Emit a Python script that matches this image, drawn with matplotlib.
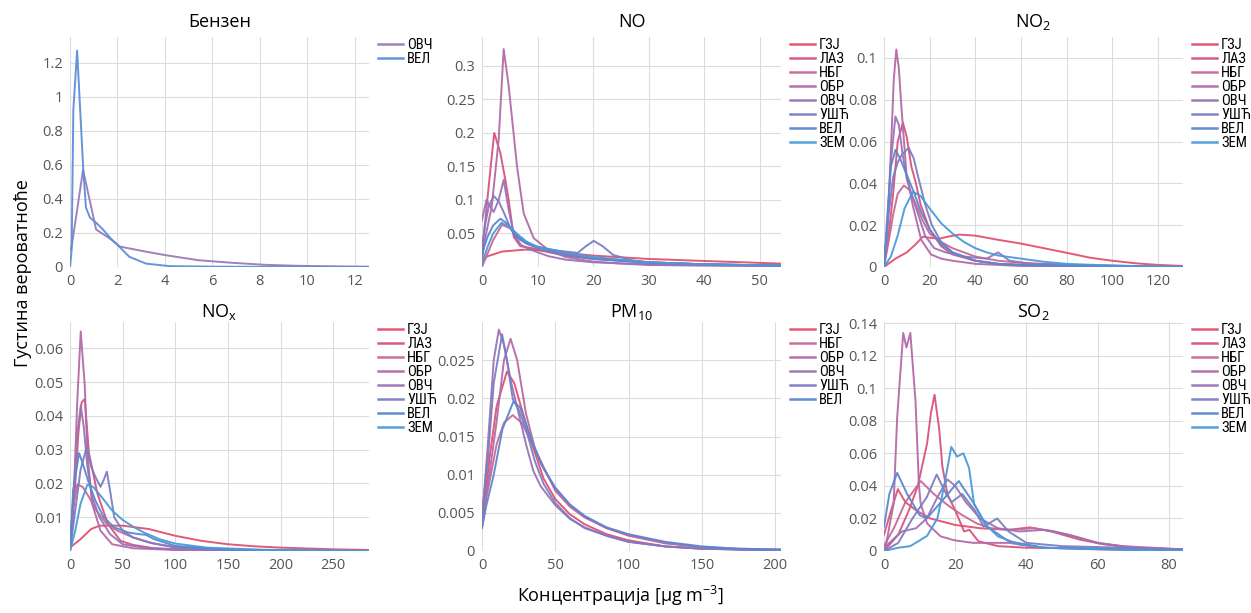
import matplotlib
matplotlib.use("Agg")
import matplotlib.pyplot as plt
from matplotlib import font_manager
from matplotlib.ticker import FuncFormatter

plt.rcParams["font.family"] = ["Open Sans", "DejaVu Sans"]
plt.rcParams["mathtext.fontset"] = "custom"
plt.rcParams["mathtext.rm"] = "Open Sans"
plt.rcParams["mathtext.it"] = "Open Sans"

# station colours (red -> purple -> blue)
COLORS = {
    "ГЗЈ": "#e2506f",
    "ЛАЗ": "#d8537d",
    "НБГ": "#c96896",
    "ОБР": "#b36aa8",
    "ОВЧ": "#9a74b6",
    "УШЋ": "#7d7cc2",
    "ВЕЛ": "#5a87cf",
    "ЗЕМ": "#4a9ad9",
}

# ---- Бензен ----
benz_ovc_x = [0, 0.07, 0.55, 1.1, 1.65, 2.1, 2.65, 3.2, 4.0, 5.4, 6.8, 8.2, 9.6, 11, 12.6]
benz_ovc_y = [0.10, 0.12, 0.57, 0.22, 0.17, 0.12, 0.105, 0.09, 0.07, 0.04, 0.025, 0.013, 0.007, 0.004, 0.002]
benz_vel_x = [0, 0.07, 0.14, 0.3, 0.56, 0.67, 0.84, 1.1, 1.39, 1.7, 2.0, 2.5, 3.2, 4.2, 6, 8, 12.6]
benz_vel_y = [0.0, 0.1, 0.92, 1.27, 0.57, 0.35, 0.29, 0.26, 0.22, 0.17, 0.13, 0.06, 0.02, 0.005, 0.002, 0.001, 0.0]

# ---- NO ----
no_gzj_x = [0, 1, 3.6, 7.8, 10, 15, 20, 30, 40, 54]
no_gzj_y = [0.01, 0.016, 0.023, 0.026, 0.025, 0.021, 0.017, 0.012, 0.009, 0.005]
no_laz_x = [0, 0.3, 1.2, 2.2, 3.3, 4.2, 4.8, 5.7, 6.9, 9, 12, 15, 20, 30, 40, 54]
no_laz_y = [0.01, 0.045, 0.12, 0.2, 0.17, 0.13, 0.1, 0.045, 0.031, 0.028, 0.022, 0.017, 0.012, 0.007, 0.004, 0.002]
no_nbg_x = [0, 1, 2, 3.6, 5, 6.5, 8, 10, 15, 20, 30, 40, 54]
no_nbg_y = [0.0, 0.02, 0.04, 0.063, 0.058, 0.045, 0.036, 0.03, 0.02, 0.013, 0.007, 0.004, 0.002]
no_obr_x = [0, 0.5, 1.75, 3.0, 3.9, 4.8, 6.3, 7.5, 9.3, 12, 15, 20, 25, 30, 40, 54]
no_obr_y = [0.01, 0.04, 0.09, 0.19, 0.325, 0.27, 0.15, 0.08, 0.043, 0.025, 0.015, 0.008, 0.005, 0.003, 0.002, 0.001]
no_ovc_x = [0, 0.8, 1.5, 2.1, 3.0, 3.9, 4.8, 5.7, 7, 9, 12, 15, 20, 30, 40, 54]
no_ovc_y = [0.07, 0.1, 0.09, 0.082, 0.1, 0.13, 0.085, 0.05, 0.033, 0.025, 0.016, 0.011, 0.007, 0.004, 0.003, 0.002]
no_usc_x = [0, 0.5, 1.2, 2.1, 3, 4, 5, 6, 8, 10, 13, 17.2, 18.7, 20.1, 21.7, 23.6, 27, 30, 40, 54]
no_usc_y = [0.03, 0.06, 0.09, 0.106, 0.098, 0.08, 0.06, 0.045, 0.035, 0.03, 0.025, 0.021, 0.031, 0.039, 0.031, 0.018, 0.01, 0.007, 0.004, 0.002]
no_vel_x = [0, 1, 2, 3.3, 4.5, 6, 8, 10, 15, 20, 30, 40, 54]
no_vel_y = [0.02, 0.045, 0.062, 0.072, 0.065, 0.048, 0.035, 0.028, 0.018, 0.012, 0.006, 0.004, 0.002]
no_zem_x = [0, 1, 2, 3.5, 5, 6.5, 8, 10, 15, 20, 30, 40, 54]
no_zem_y = [0.005, 0.03, 0.05, 0.066, 0.06, 0.048, 0.038, 0.03, 0.022, 0.015, 0.007, 0.004, 0.002]

# ---- NO2 ----
no2_gzj_x = [0, 5, 10, 14, 17, 20, 24, 28, 33, 40, 50, 60, 70, 80, 90, 100, 110, 120, 131]
no2_gzj_y = [0.0, 0.004, 0.007, 0.011, 0.0145, 0.014, 0.0135, 0.0145, 0.0155, 0.015, 0.013, 0.0112, 0.009, 0.0068, 0.0045, 0.003, 0.0018, 0.001, 0.0005]
no2_laz_x = [0, 2, 4, 6, 8.3, 10, 12, 14, 16, 20, 25, 30, 40, 50, 60, 80, 131]
no2_laz_y = [0, 0.015, 0.035, 0.06, 0.069, 0.062, 0.048, 0.04, 0.03, 0.018, 0.01, 0.006, 0.003, 0.0015, 0.001, 0.0005, 0.0]
no2_nbg_x = [0, 2, 4, 6, 8.7, 11, 14, 17, 20, 25, 30, 40, 50, 60, 80, 131]
no2_nbg_y = [0, 0.012, 0.025, 0.035, 0.039, 0.037, 0.03, 0.022, 0.016, 0.012, 0.009, 0.005, 0.003, 0.002, 0.001, 0.0]
no2_obr_x = [0, 1.5, 3, 4.3, 5.4, 6.5, 7.6, 9.8, 12.7, 16.3, 20.6, 25, 30, 40, 60, 131]
no2_obr_y = [0, 0.02, 0.055, 0.09, 0.104, 0.095, 0.077, 0.045, 0.029, 0.013, 0.006, 0.004, 0.003, 0.0015, 0.0005, 0.0]
no2_ovc_x = [0, 1.5, 3, 5, 6.5, 8, 10, 12, 15, 18, 22, 27, 35, 45, 50, 55, 65, 80, 131]
no2_ovc_y = [0, 0.02, 0.05, 0.072, 0.068, 0.055, 0.042, 0.035, 0.025, 0.015, 0.009, 0.007, 0.005, 0.004, 0.007, 0.003, 0.0015, 0.001, 0.0]
no2_usc_x = [0, 2, 4, 6, 8, 10.8, 13, 15, 18, 21, 25, 30, 40, 50, 60, 80, 131]
no2_usc_y = [0, 0.025, 0.043, 0.05, 0.054, 0.057, 0.052, 0.043, 0.03, 0.02, 0.012, 0.007, 0.003, 0.0015, 0.001, 0.0005, 0]
no2_vel_x = [0, 1.5, 3, 5, 7, 10, 13, 16, 20, 25, 30, 40, 50, 60, 80, 131]
no2_vel_y = [0, 0.025, 0.048, 0.056, 0.052, 0.044, 0.036, 0.027, 0.018, 0.011, 0.007, 0.003, 0.0015, 0.001, 0.0005, 0]
no2_zem_x = [0, 3, 6, 9, 12.7, 16, 20, 25, 30, 35, 40, 45, 50, 60, 70, 80, 100, 131]
no2_zem_y = [0, 0.005, 0.015, 0.028, 0.036, 0.034, 0.028, 0.021, 0.016, 0.012, 0.009, 0.007, 0.0055, 0.004, 0.0025, 0.0015, 0.0007, 0]

# ---- NOx ----
nox_gzj_x = [0, 10, 20, 28, 50, 75, 100, 125, 150, 175, 200, 250, 284]
nox_gzj_y = [0.001, 0.0035, 0.0065, 0.0075, 0.0075, 0.0065, 0.0045, 0.003, 0.002, 0.0014, 0.001, 0.0005, 0.0003]
nox_laz_x = [0, 4, 8, 11, 14, 18, 26, 36, 48, 60, 80, 120, 284]
nox_laz_y = [0, 0.015, 0.035, 0.044, 0.045, 0.029, 0.017, 0.008, 0.003, 0.0018, 0.0008, 0.0003, 0]
nox_nbg_x = [0, 3, 7, 12, 18, 25, 35, 45, 60, 80, 100, 150, 284]
nox_nbg_y = [0.002, 0.013, 0.0197, 0.019, 0.016, 0.012, 0.008, 0.006, 0.004, 0.0022, 0.0012, 0.0004, 0]
nox_obr_x = [0, 4, 7, 10.2, 14, 16.5, 21, 29, 40, 60, 100, 284]
nox_obr_y = [0, 0.02, 0.045, 0.065, 0.049, 0.029, 0.014, 0.006, 0.002, 0.0008, 0.0003, 0]
nox_ovc_x = [0, 4, 7, 10.2, 13, 16.5, 21, 28, 38, 50, 70, 100, 284]
nox_ovc_y = [0, 0.02, 0.035, 0.043, 0.037, 0.025, 0.016, 0.01, 0.005, 0.002, 0.001, 0.0004, 0]
nox_usc_x = [0, 5, 10, 16, 20, 24, 29, 32, 35, 38, 42, 50, 60, 75, 100, 150, 284]
nox_usc_y = [0, 0.012, 0.024, 0.031, 0.025, 0.022, 0.019, 0.021, 0.0235, 0.018, 0.01, 0.006, 0.004, 0.0025, 0.001, 0.0003, 0]
nox_vel_x = [0, 3, 8.6, 12, 17, 24, 32, 42, 55, 65, 72, 80, 100, 150, 284]
nox_vel_y = [0, 0.018, 0.029, 0.026, 0.021, 0.015, 0.01, 0.007, 0.0055, 0.005, 0.0048, 0.0035, 0.0015, 0.0004, 0]
nox_zem_x = [0, 5, 10, 16.5, 22, 30, 40, 50, 60, 70, 85, 100, 130, 180, 284]
nox_zem_y = [0, 0.006, 0.014, 0.0196, 0.019, 0.016, 0.012, 0.0092, 0.0072, 0.0055, 0.0035, 0.0022, 0.001, 0.0004, 0]

# ---- PM10 ----
pm_gzj_x = [0, 5, 10, 17, 22, 28, 35, 42, 50, 60, 70, 85, 100, 125, 150, 175, 204]
pm_gzj_y = [0.003, 0.012, 0.019, 0.0235, 0.022, 0.018, 0.0135, 0.0095, 0.0068, 0.0048, 0.0035, 0.0022, 0.0014, 0.0006, 0.0003, 0.0002, 0.0001]
pm_nbg_x = [0, 5, 10, 15, 21, 27, 35, 42, 50, 60, 70, 85, 100, 125, 150, 175, 204]
pm_nbg_y = [0.004, 0.009, 0.014, 0.0168, 0.0178, 0.0168, 0.0138, 0.0108, 0.0082, 0.006, 0.0045, 0.003, 0.0021, 0.0011, 0.0005, 0.0003, 0.0002]
pm_obr_x = [0, 5, 10, 15, 19.5, 24, 30, 36, 42, 50, 60, 70, 85, 100, 125, 150, 175, 204]
pm_obr_y = [0.004, 0.01, 0.017, 0.025, 0.0278, 0.025, 0.018, 0.0135, 0.011, 0.0079, 0.0058, 0.0044, 0.003, 0.002, 0.001, 0.0005, 0.0002, 0.0001]
pm_ovc_x = [0, 4, 8, 11.5, 15, 20, 25, 30, 35, 40, 50, 60, 70, 85, 100, 125, 150, 204]
pm_ovc_y = [0.004, 0.014, 0.025, 0.029, 0.027, 0.022, 0.018, 0.014, 0.0105, 0.0085, 0.006, 0.0042, 0.0031, 0.002, 0.0012, 0.0006, 0.0003, 0.0001]
pm_usc_x = [0, 4, 8, 13.7, 17, 21, 25, 30, 36, 42, 50, 60, 70, 85, 100, 125, 150, 204]
pm_usc_y = [0.005, 0.012, 0.022, 0.0284, 0.025, 0.0199, 0.0185, 0.016, 0.0118, 0.0088, 0.0063, 0.0043, 0.003, 0.002, 0.0012, 0.0006, 0.0003, 0.0001]
pm_vel_x = [0, 3, 8, 14, 21.5, 26, 32, 40, 50, 60, 70, 85, 100, 125, 150, 175, 204]
pm_vel_y = [0.003, 0.006, 0.01, 0.016, 0.0196, 0.0188, 0.0155, 0.0115, 0.0083, 0.0061, 0.0046, 0.0031, 0.0022, 0.0012, 0.0006, 0.0003, 0.0002]

# ---- SO2 ----
so2_gzj_x = [0, 2, 3.9, 6, 9, 13, 20, 27, 35, 41, 47, 55, 62, 70, 84]
so2_gzj_y = [0.01, 0.025, 0.038, 0.03, 0.025, 0.02, 0.016, 0.014, 0.013, 0.0145, 0.012, 0.007, 0.004, 0.002, 0.001]
so2_laz_x = [0, 4, 7, 9.5, 11, 12.1, 13.2, 14.2, 15.5, 16.4, 17.8, 20, 22.5, 24, 26.5, 32, 40, 84]
so2_laz_y = [0, 0.01, 0.025, 0.04, 0.055, 0.066, 0.085, 0.096, 0.075, 0.052, 0.035, 0.025, 0.012, 0.013, 0.006, 0.003, 0.002, 0.001]
so2_nbg_x = [0, 3, 6, 10.3, 14, 18, 22, 26, 30, 36, 42, 48, 55, 60, 67, 84]
so2_nbg_y = [0.003, 0.015, 0.03, 0.043, 0.035, 0.028, 0.022, 0.017, 0.014, 0.013, 0.014, 0.012, 0.008, 0.005, 0.003, 0.001]
so2_obr_x = [0, 0.4, 2.7, 3.7, 5.4, 6.3, 7.4, 8.85, 9.8, 10.3, 12.1, 15.9, 19.7, 25, 35, 45, 60, 84]
so2_obr_y = [0.0, 0.002, 0.029, 0.082, 0.134, 0.125, 0.134, 0.092, 0.041, 0.029, 0.017, 0.009, 0.0066, 0.005, 0.005, 0.002, 0.001, 0.0]
so2_ovc_x = [0, 5, 9, 12, 15, 17.8, 20, 23, 27, 32, 38, 45, 52, 60, 70, 84]
so2_ovc_y = [0.002, 0.012, 0.014, 0.02, 0.033, 0.044, 0.04, 0.03, 0.02, 0.014, 0.012, 0.013, 0.01, 0.005, 0.002, 0.001]
so2_usc_x = [0, 4, 8, 12, 14.8, 17.5, 19, 22, 25.5, 28, 31.8, 35, 40, 50, 84]
so2_usc_y = [0.0, 0.005, 0.02, 0.033, 0.047, 0.035, 0.03, 0.035, 0.025, 0.015, 0.02, 0.012, 0.005, 0.003, 0.001]
so2_vel_x = [0, 1.5, 3.7, 6.5, 10, 12, 16, 21, 25, 29, 35, 45, 84]
so2_vel_y = [0.015, 0.035, 0.048, 0.035, 0.022, 0.02, 0.03, 0.043, 0.03, 0.015, 0.006, 0.002, 0.0]
so2_zem_x = [0, 4, 7.4, 12.1, 15, 16.9, 18.9, 20.5, 22.3, 23.9, 25.3, 28.2, 32, 38, 45, 84]
so2_zem_y = [0.0, 0.002, 0.003, 0.0093, 0.02, 0.04, 0.064, 0.058, 0.06, 0.051, 0.029, 0.017, 0.009, 0.004, 0.002, 0.0]

PANELS = [
    ("Бензен", [("ОВЧ", benz_ovc_x, benz_ovc_y, "#9a7ab8"), ("ВЕЛ", benz_vel_x, benz_vel_y, "#5b8fd6")],
     (0, 12.6), (0, 1.35), [0, 2, 4, 6, 8, 10, 12], [0, 0.2, 0.4, 0.6, 0.8, 1.0, 1.2]),
    ("NO", [("ГЗЈ", no_gzj_x, no_gzj_y), ("ЛАЗ", no_laz_x, no_laz_y), ("НБГ", no_nbg_x, no_nbg_y),
            ("ОБР", no_obr_x, no_obr_y), ("ОВЧ", no_ovc_x, no_ovc_y), ("УШЋ", no_usc_x, no_usc_y),
            ("ВЕЛ", no_vel_x, no_vel_y), ("ЗЕМ", no_zem_x, no_zem_y)],
     (0, 53.8), (0, 0.343), [0, 10, 20, 30, 40, 50], [0.05, 0.1, 0.15, 0.2, 0.25, 0.3]),
    ("NO$_2$", [("ГЗЈ", no2_gzj_x, no2_gzj_y), ("ЛАЗ", no2_laz_x, no2_laz_y), ("НБГ", no2_nbg_x, no2_nbg_y),
                ("ОБР", no2_obr_x, no2_obr_y), ("ОВЧ", no2_ovc_x, no2_ovc_y), ("УШЋ", no2_usc_x, no2_usc_y),
                ("ВЕЛ", no2_vel_x, no2_vel_y), ("ЗЕМ", no2_zem_x, no2_zem_y)],
     (0, 131), (0, 0.110), [0, 20, 40, 60, 80, 100, 120], [0, 0.02, 0.04, 0.06, 0.08, 0.1]),
    ("NO$_\\mathregular{x}$", [("ГЗЈ", nox_gzj_x, nox_gzj_y), ("ЛАЗ", nox_laz_x, nox_laz_y), ("НБГ", nox_nbg_x, nox_nbg_y),
                ("ОБР", nox_obr_x, nox_obr_y), ("ОВЧ", nox_ovc_x, nox_ovc_y), ("УШЋ", nox_usc_x, nox_usc_y),
                ("ВЕЛ", nox_vel_x, nox_vel_y), ("ЗЕМ", nox_zem_x, nox_zem_y)],
     (0, 284), (0, 0.0678), [0, 50, 100, 150, 200, 250], [0.01, 0.02, 0.03, 0.04, 0.05, 0.06]),
    ("PM$_{10}$", [("ГЗЈ", pm_gzj_x, pm_gzj_y), ("НБГ", pm_nbg_x, pm_nbg_y), ("ОБР", pm_obr_x, pm_obr_y),
                   ("ОВЧ", pm_ovc_x, pm_ovc_y), ("УШЋ", pm_usc_x, pm_usc_y), ("ВЕЛ", pm_vel_x, pm_vel_y)],
     (0, 204), (0, 0.030), [0, 50, 100, 150, 200], [0, 0.005, 0.01, 0.015, 0.02, 0.025]),
    ("SO$_2$", [("ГЗЈ", so2_gzj_x, so2_gzj_y), ("ЛАЗ", so2_laz_x, so2_laz_y), ("НБГ", so2_nbg_x, so2_nbg_y),
                ("ОБР", so2_obr_x, so2_obr_y), ("ОВЧ", so2_ovc_x, so2_ovc_y), ("УШЋ", so2_usc_x, so2_usc_y),
                ("ВЕЛ", so2_vel_x, so2_vel_y), ("ЗЕМ", so2_zem_x, so2_zem_y)],
     (0, 84), (0, 0.1407), [0, 20, 40, 60, 80], [0, 0.02, 0.04, 0.06, 0.08, 0.1, 0.12, 0.14]),
]

# condensed face for the legend labels, if one is installed
names = {f.name for f in font_manager.fontManager.ttflist}
legend_family = ["DejaVu Sans"]
for cand in ["Liberation Sans Narrow", "Roboto Condensed", "Open Sans Condensed"]:
    if cand in names:
        legend_family = [cand, "DejaVu Sans"]
        break
legend_prop = font_manager.FontProperties(family=legend_family, size=10.5, stretch="condensed")

W, H = 1251, 613
COL_LEFT = [70, 482, 884]
AX_W = 299
ROW_TOP = [37, 322]
ROW_BOTTOM = [267, 551]

fig = plt.figure(figsize=(W / 100, H / 100), dpi=100)

for i, (title, series, xlim, ylim, xt, yt) in enumerate(PANELS):
    r, c = divmod(i, 3)
    left = COL_LEFT[c] / W
    bottom = 1 - ROW_BOTTOM[r] / H
    height = (ROW_BOTTOM[r] - ROW_TOP[r]) / H
    ax = fig.add_axes([left, bottom, AX_W / W, height])
    for s in series:
        name, xs, ys = s[0], s[1], s[2]
        col = s[3] if len(s) > 3 else COLORS[name]
        ax.plot(xs, ys, color=col, lw=1.4, label=name, alpha=0.95)
    ax.set_xlim(*xlim)
    ax.set_ylim(*ylim)
    ax.set_xticks(xt)
    ax.set_yticks(yt)
    ax.yaxis.set_major_formatter(FuncFormatter(lambda v, p: "%g" % round(v, 4)))
    ax.xaxis.set_major_formatter(FuncFormatter(lambda v, p: "%g" % v))
    ax.grid(True, color="#dcdcdc", lw=0.8)
    ax.set_axisbelow(True)
    for sp in ax.spines.values():
        sp.set_visible(False)
    ax.tick_params(length=0, labelsize=10.5, labelcolor="#555555", pad=5)
    ax.set_title(title, fontsize=13, pad=7 if r == 0 else 3)
    leg = ax.legend(loc="upper left", bbox_to_anchor=(1.025, 1.0), frameon=False,
                    handlelength=1.7, handletextpad=0.3,
                    labelspacing=0.0, borderaxespad=0, borderpad=0.1,
                    prop=legend_prop)
    for line in leg.get_lines():
        line.set_linewidth(1.8)

fig.text(0.018, 0.555, "Густина вероватноће", rotation=90, ha="center", va="center", fontsize=13)
fig.text(0.496, 0.027, "Концентрација [μg m$^{-3}$]", ha="center", va="center", fontsize=13)

fig.savefig("out.png", dpi=100)
